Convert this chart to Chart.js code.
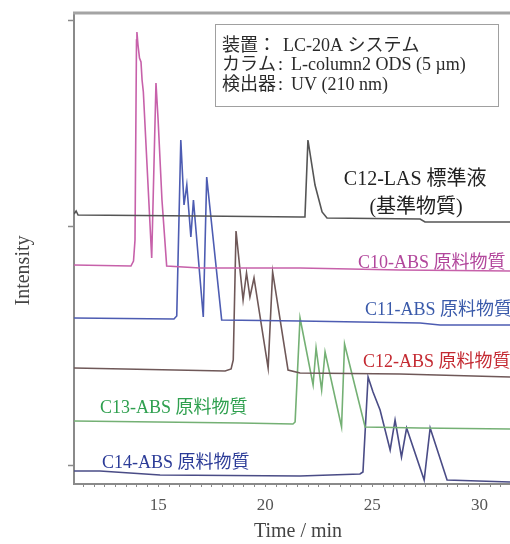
<!DOCTYPE html>
<html>
<head>
<meta charset="utf-8">
<script src="https://cdn.jsdelivr.net/npm/chart.js@4.4.1/dist/chart.umd.min.js"></script>
<style>
  body { margin: 0; background: #fff; }
  canvas { display: block; }
</style>
</head>
<body>
<canvas id="chart" width="510" height="544"></canvas>
<script>
// retention time (min) / intensity (a.u.)
const lasTime = [11.06, 11.16, 11.25, 16.95, 21.62, 21.85, 21.99, 22.32, 22.65, 22.88, 27.23, 27.46, 31.43];
const lasInt  = [271, 274, 270, 269, 268, 268, 345, 300, 273, 267, 266, 263, 263];

const c10Time = [11.06, 13.72, 13.84, 13.91, 13.98, 14.00, 14.05, 14.12, 14.19, 14.24, 14.30, 14.69, 14.89, 14.99, 15.17, 15.39, 16.95, 21.62, 26.29, 31.43];
const c10Int  = [220, 219, 224, 245, 445, 453, 440, 427, 423, 405, 393, 227, 402, 365, 285, 219, 217, 217, 215, 214];

const c11Time = [11.06, 15.73, 15.86, 16.05, 16.20, 16.33, 16.52, 16.64, 17.10, 17.26, 17.96, 21.62, 24.42, 27.23, 28.16, 31.43];
const c11Int  = [167, 166, 169, 345, 280, 300, 248, 285, 168, 308, 165, 164, 163, 162, 160, 160];

const c12Time = [11.06, 18.12, 18.40, 18.50, 18.63, 18.96, 19.12, 19.28, 19.47, 20.13, 20.34, 21.06, 21.62, 26.29, 31.43];
const c12Int  = [117, 114, 116, 125, 254, 185, 212, 188, 207, 117, 213, 115, 112, 111, 108];

const c13Time = [11.06, 18.82, 21.29, 21.39, 21.62, 22.23, 22.37, 22.63, 22.79, 23.56, 23.70, 24.66, 27.23, 31.43];
const c13Int  = [64, 62, 61, 63, 167, 100, 137, 95, 133, 58, 141, 58, 57, 56];

const c14Time = [11.06, 12.27, 15.08, 21.62, 24.42, 24.56, 24.80, 25.03, 25.36, 25.83, 26.06, 26.36, 26.60, 27.42, 27.70, 28.49, 31.43];
const c14Int  = [14, 14, 10, 9, 11, 13, 108, 93, 75, 35, 65, 28, 57, 5, 57, 5, 3];

const xLabelled = [15, 20, 25, 30];
const yTickValues = [20, 259, 465];

const serif = '"Liberation Serif", "Noto Sans CJK JP", serif';

function pts(ts, vs) {
  return ts.map((t, i) => ({ x: t, y: vs[i] }));
}

function series(data, color) {
  return {
    data: data,
    borderColor: color,
    borderWidth: 1.6,
    pointRadius: 0,
    tension: 0,
    fill: false
  };
}

// frame top line, info box, trace labels and axis titles
const decor = {
  id: 'decor',
  afterDraw(chart) {
    const ctx = chart.ctx;
    const a = chart.chartArea;
    const xs = chart.scales.x, ys = chart.scales.y;
    ctx.save();

    ctx.strokeStyle = '#a4a4a4';
    ctx.lineWidth = 3;
    ctx.beginPath();
    ctx.moveTo(a.left - 1, a.top);
    ctx.lineTo(a.right, a.top);
    ctx.stroke();

    // conditions box
    ctx.fillStyle = '#fff';
    ctx.fillRect(215, 24, 283, 82);
    ctx.strokeStyle = '#a0a0a0';
    ctx.lineWidth = 1;
    ctx.strokeRect(215.5, 24.5, 283, 82);
    ctx.fillStyle = '#2a2a2a';
    ctx.font = '18px ' + serif;
    ctx.textBaseline = 'middle';
    ctx.textAlign = 'left';
    ctx.fillText('装置：', 222, 46);
    ctx.fillText('LC-20A システム', 283, 46);
    ctx.fillText('カラム', 222, 65);
    ctx.fillText(':', 278, 65);
    ctx.fillText('L-column2 ODS (5 µm)', 291, 65);
    ctx.fillText('検出器', 222, 85);
    ctx.fillText(':', 278, 85);
    ctx.fillText('UV (210 nm)', 291, 85);

    // trace labels
    const labels = [
      ['C12-LAS 標準液', '#222', 27.0, 305, 'center', 20],
      ['(基準物質)', '#222', 27.04, 277, 'center', 20],
      ['C10-ABS 原料物質', '#b2479c', 24.33, 222, 'left', 18],
      ['C11-ABS 原料物質', '#3a5aaa', 24.66, 175, 'left', 18],
      ['C12-ABS 原料物質', '#c42a32', 24.56, 123, 'left', 18],
      ['C13-ABS 原料物質', '#2fa04f', 12.27, 77, 'left', 18],
      ['C14-ABS 原料物質', '#2c3c98', 12.37, 22, 'left', 18]
    ];
    labels.forEach(l => {
      ctx.font = l[5] + 'px ' + serif;
      ctx.fillStyle = l[1];
      ctx.textAlign = l[4];
      ctx.fillText(l[0], xs.getPixelForValue(l[2]), ys.getPixelForValue(l[3]));
    });

    // axis titles
    ctx.fillStyle = '#444';
    ctx.font = '20px ' + serif;
    ctx.textAlign = 'center';
    ctx.fillText('Time / min', (a.left + a.right) / 2 + 6, 532);
    ctx.translate(24, (a.top + a.bottom) / 2 + 22);
    ctx.rotate(-Math.PI / 2);
    ctx.fillText('Intensity', 0, 0);
    ctx.restore();
  }
};

new Chart(document.getElementById('chart'), {
  type: 'line',
  data: {
    datasets: [
      series(pts(lasTime, lasInt), '#555555'),
      series(pts(c10Time, c10Int), '#c761aa'),
      series(pts(c11Time, c11Int), '#4d5cb2'),
      series(pts(c12Time, c12Int), '#6f5858'),
      series(pts(c13Time, c13Int), '#74b074'),
      series(pts(c14Time, c14Int), '#4a4c86')
    ]
  },
  options: {
    responsive: false,
    animation: false,
    devicePixelRatio: 1,
    layout: { padding: { top: 13, right: 0, left: 0, bottom: 0 } },
    plugins: { legend: { display: false }, tooltip: { enabled: false } },
    scales: {
      x: {
        type: 'linear',
        min: 11.06,
        max: 31.43,
        afterFit(s) { s.height = 60; },
        afterBuildTicks(s) {
          const t = [];
          for (let v = 11.5; v <= 31; v += 0.5) t.push({ value: v });
          s.ticks = t;
        },
        ticks: {
          autoSkip: false,
          maxRotation: 0,
          padding: 8,
          color: '#555',
          font: { family: serif, size: 17 },
          callback: v => xLabelled.includes(v) ? String(v) : ''
        },
        grid: { drawOnChartArea: false, tickLength: 3, color: '#8a8a8a' },
        border: { color: '#8a8a8a', width: 2 }
      },
      y: {
        min: 1,
        max: 472,
        afterFit(s) { s.width = 74; },
        afterBuildTicks(s) {
          s.ticks = yTickValues.map(v => ({ value: v }));
        },
        ticks: { display: false },
        grid: { drawOnChartArea: false, tickLength: 6, color: '#8a8a8a', tickWidth: 1.5 },
        border: { color: '#8a8a8a', width: 2 }
      }
    }
  },
  plugins: [decor]
});
</script>
</body>
</html>
